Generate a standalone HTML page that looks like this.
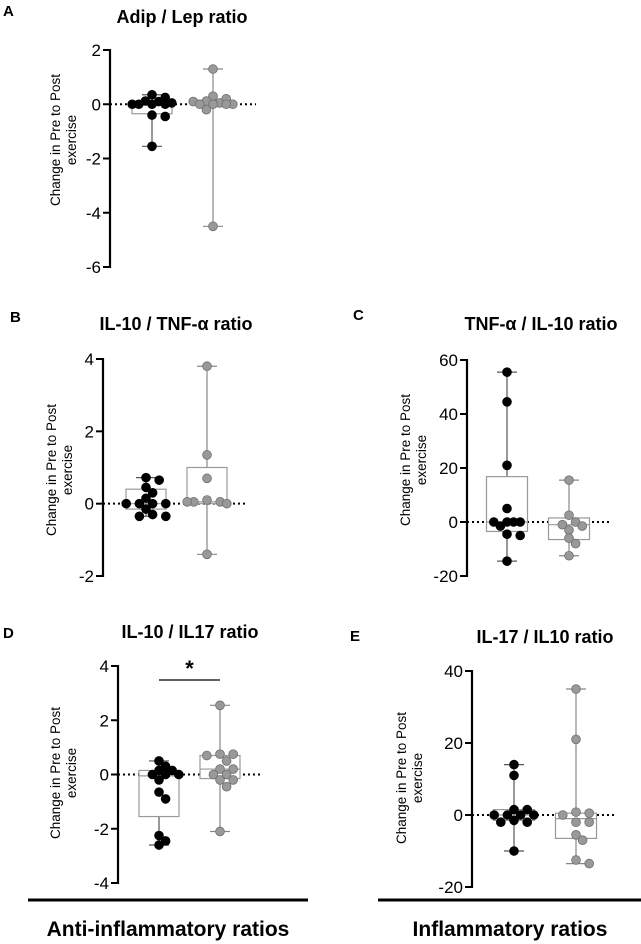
<!DOCTYPE html>
<html><head><meta charset="utf-8"><style>
html,body{margin:0;padding:0;background:#fff;}
svg{display:block;font-family:"Liberation Sans",Arial,sans-serif;}
</style></head><body>
<svg id="fig" width="641" height="944" viewBox="0 0 641 944"></svg>
<script>
// Panel A: Adip / Lep
const aTicks=[2,0,-2,-4,-6];
const aBlack=[0.35,0.25,0.12,0.1,0.05,0,0,0,0,-0.4,-0.45,-1.55];
const aBlackBox=[-0.35,0.0,0.1,-1.55,0.35];
const aGray=[1.3,0.3,0.2,0.12,0.1,0.05,0,0,0,0,-0.2,-4.5];
const aGrayBox=[0.0,0.05,0.15,-4.5,1.3];
// Panel B: IL-10 / TNF-a
const bTicks=[4,2,0,-2];
const bBlack=[0.72,0.65,0.45,0.3,0.15,0,0,0,0,-0.15,-0.3,-0.35,-0.35];
const bBlackBox=[-0.15,0.0,0.4,-0.35,0.72];
const bGray=[3.8,1.35,0.7,0.1,0.05,0.05,0,0.05,-1.4];
const bGrayBox=[0.0,0.05,1.0,-1.4,3.8];
// Panel C: TNF-a / IL-10
const cTicks=[60,40,20,0,-20];
const cBlack=[55.5,44.5,21,5,0,0,0,0,-1.5,-4.5,-5,-14.5];
const cBlackBox=[-3.5,0,16.8,-14.5,55.5];
const cGray=[15.5,2.5,0,-1,-1.5,-3,-6,-8,-12.5];
const cGrayBox=[-6.5,-1,1.5,-12.5,15.5];
// Panel D: IL-10 / IL17
const dTicks=[4,2,0,-2,-4];
const dBlack=[0.5,0.3,0.15,0.15,0,0,0,-0.2,-0.65,-0.9,-2.25,-2.45,-2.6];
const dBlackBox=[-1.55,-0.05,0.15,-2.6,0.5];
const dGray=[2.55,0.75,0.75,0.7,0.5,0.2,0.2,0,0,-0.2,-0.2,-0.45,-2.1];
const dGrayBox=[-0.15,0.2,0.7,-2.1,2.55];
// Panel E: IL-17 / IL10
const eTicks=[40,20,0,-20];
const eBlack=[14,11,1.5,1.5,0,0,0,0,-1.5,-2,-2,-10];
const eBlackBox=[-1.5,0,1.5,-10,14];
const eGray=[35,21,0.8,0.5,0,-2,-2,-5.5,-7,-12.5,-13.5];
const eGrayBox=[-6.5,-1,0.5,-13.5,35];

const NS="http://www.w3.org/2000/svg";
const svg=document.getElementById('fig');
function mk(tag,attrs,parent){const e=document.createElementNS(NS,tag);for(const k in attrs)e.setAttribute(k,attrs[k]);(parent||svg).appendChild(e);return e;}
function txt(x,y,s,size,weight,anchor,parent,rot){const t=mk('text',{x:x,y:y,'font-size':size,'font-weight':weight,'text-anchor':anchor,fill:'#000'},parent);if(rot)t.setAttribute('transform',rot);t.textContent=s;return t;}

const panels=[
 {id:'a',letter:'A',lx:3,ly:16,title:'Adip / Lep ratio',tx:182,ty:23,ax:110,yTop:50,yBot:267,vTop:2,vBot:-6,ticks:aTicks,c1:152,c2:213,bw:40,dotEnd:256,black:aBlack,bb:aBlackBox,gray:aGray,gb:aGrayBox,ylx:68,yly:140},
 {id:'b',letter:'B',lx:10,ly:322,title:'IL-10 / TNF-\u03b1 ratio',tx:176,ty:330,ax:103,yTop:359,yBot:576,vTop:4,vBot:-2,ticks:bTicks,c1:146,c2:207,bw:40,dotEnd:248,black:bBlack,bb:bBlackBox,gray:bGray,gb:bGrayBox,ylx:64,yly:470},
 {id:'c',letter:'C',lx:353,ly:320,title:'TNF-\u03b1 / IL-10 ratio',tx:541,ty:330,ax:467,yTop:360,yBot:576,vTop:60,vBot:-20,ticks:cTicks,c1:507,c2:569,bw:41,dotEnd:610,black:cBlack,bb:cBlackBox,gray:cGray,gb:cGrayBox,ylx:418,yly:460},
 {id:'d',letter:'D',lx:3,ly:638,title:'IL-10 / IL17 ratio',tx:190,ty:638,ax:118,yTop:666,yBot:883,vTop:4,vBot:-4,ticks:dTicks,c1:159,c2:220,bw:40,dotEnd:262,black:dBlack,bb:dBlackBox,gray:dGray,gb:dGrayBox,ylx:68,yly:773,sig:true},
 {id:'e',letter:'E',lx:350,ly:641,title:'IL-17 / IL10 ratio',tx:545,ty:643,ax:472,yTop:671,yBot:887,vTop:40,vBot:-20,ticks:eTicks,c1:514,c2:576,bw:41,dotEnd:617,black:eBlack,bb:eBlackBox,gray:eGray,gb:eGrayBox,ylx:414,yly:778}
];

function swarm(vals,yf,cx){
  const placed=[];const r=7.6;const out=[];
  vals.forEach(v=>{
    const y=yf(v);
    const offs=[0];for(let k=1;k<=3;k++){offs.push(k*6.6);offs.push(-k*6.6);}
    let best=null,bestD=-1;
    for(const o of offs){const x=cx+o;
      const d=placed.length?Math.min(...placed.map(p=>Math.hypot(p[0]-x,p[1]-y))):99;
      if(d>=r){best=x;break;}
      if(d>bestD){bestD=d;best=x;}
    }
    placed.push([best,y]);out.push([best,y]);
  });
  return out;
}

panels.forEach(p=>{
  const g=mk('g',{});
  
  
  const y=v=>p.yTop+(p.vTop-v)/(p.vTop-p.vBot)*(p.yBot-p.yTop);
  const L=txt(p.lx,p.ly,p.letter,15,'bold','start',g);
  
  const T=txt(p.tx,p.ty,p.title,18,'bold','middle',g);
  
  const yl=mk('g',{},g);
  
  txt(p.ylx-8,p.yly,'Change in Pre to Post',13.5,'normal','middle',yl,'rotate(-90 '+(p.ylx-8)+' '+p.yly+')');
  txt(p.ylx+8,p.yly,'exercise',13.5,'normal','middle',yl,'rotate(-90 '+(p.ylx+8)+' '+p.yly+')');
  const z=mk('line',{x1:p.ax,x2:p.dotEnd,y1:y(0),y2:y(0),stroke:'#000','stroke-width':2,'stroke-dasharray':'2,3'},g);
  
  const ax=mk('line',{x1:p.ax,x2:p.ax,y1:p.yTop-1,y2:p.yBot+1,stroke:'#000','stroke-width':2.2},g);
  
  p.ticks.forEach(t=>{
    mk('line',{x1:p.ax-7,x2:p.ax,y1:y(t),y2:y(t),stroke:'#000','stroke-width':2},g);
    const tl=txt(p.ax-9,y(t)+6,String(t),17,'normal','end',g);
    
  });
  [[p.black,p.bb,p.c1,'#000','#000','black'],[p.gray,p.gb,p.c2,'#999','#6f6f6f','gray']].forEach(([vals,box,cx,fill,stroke,nm])=>{
    const bg=mk('g',{},g);
    
    const wc=nm==='black'?'#555':'#888';
    const wl=mk('line',{x1:cx,x2:cx,y1:y(box[4]),y2:y(box[3]),stroke:wc,'stroke-width':1.2},bg);
    
    [box[3],box[4]].forEach(v=>mk('line',{x1:cx-10,x2:cx+10,y1:y(v),y2:y(v),stroke:wc,'stroke-width':1.2},bg));
    const b=mk('rect',{x:cx-p.bw/2,y:y(box[2]),width:p.bw,height:Math.max(1,y(box[0])-y(box[2])),fill:'#fff',stroke:'#999','stroke-width':1.2},bg);
    
    mk('line',{x1:cx-p.bw/2,x2:cx+p.bw/2,y1:y(box[1]),y2:y(box[1]),stroke:'#999','stroke-width':1.2},bg);
    swarm(vals,y,cx).forEach(([px,py])=>{
      const c=mk('circle',{cx:px,cy:py,r:4.4,fill:fill,stroke:stroke,'stroke-width':0.8},bg);
      
    });
  });
  if(p.sig){
    const s=mk('line',{x1:p.c1,x2:p.c2,y1:680,y2:680,stroke:'#000','stroke-width':1.3},g);
    
    const st=txt((p.c1+p.c2)/2,676,'*',22,'bold','middle',g);
    
  }
});
const l1=mk('line',{x1:28,x2:308,y1:900,y2:900,stroke:'#000','stroke-width':3});

const l2=mk('line',{x1:378,x2:641,y1:900,y2:900,stroke:'#000','stroke-width':3});

const t1=txt(168,936,'Anti-inflammatory ratios',21,'bold','middle');

const t2=txt(510,936,'Inflammatory ratios',21,'bold','middle');

</script>
</body></html>
